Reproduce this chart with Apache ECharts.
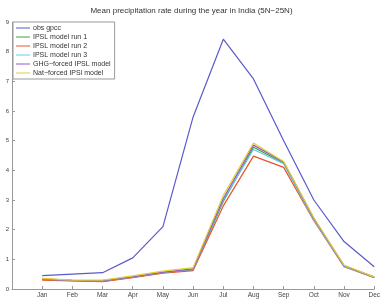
<!DOCTYPE html>
<html><head><meta charset="utf-8">
<script src="https://cdn.jsdelivr.net/npm/echarts@6/dist/echarts.min.js"></script>
<style>html,body{margin:0;padding:0;background:#fff}#c{width:383px;height:299px}</style>
</head><body><div id="c"></div>
<script>
var months = ['Jan','Feb','Mar','Apr','May','Jun','Jul','Aug','Sep','Oct','Nov','Dec'];
var yTicks = [0,1,2,3,4,5,6,7,8,9];
var seriesNames = ['obs gpcc','IPSL model run 1','IPSL model run 2','IPSL model run 3','GHG\u2212forced IPSL model','Nat\u2212forced IPSl model'];
var obsGpcc = [0.45,0.50,0.55,1.05,2.10,5.80,8.42,7.08,5.00,3.00,1.60,0.75];
var run1    = [0.32,0.28,0.26,0.40,0.55,0.64,2.95,4.78,4.25,2.35,0.78,0.40];
var run2    = [0.30,0.27,0.25,0.38,0.53,0.62,2.80,4.48,4.10,2.30,0.75,0.38];
var run3    = [0.33,0.29,0.27,0.41,0.56,0.66,3.00,4.70,4.22,2.33,0.77,0.39];
var ghg     = [0.34,0.29,0.28,0.42,0.57,0.68,3.05,4.85,4.28,2.38,0.79,0.40];
var nat     = [0.36,0.30,0.30,0.44,0.60,0.72,3.15,4.92,4.30,2.40,0.80,0.41];
var colors  = ['#5a5acb','#3aa34a','#e8542c','#62c8e8','#9a55c0','#e0d030'];
var allData = [obsGpcc, run1, run2, run3, ghg, nat];

var chart = echarts.init(document.getElementById('c'));
var series = allData.map(function(d, i){
  return {
    name: seriesNames[i], type: 'line', symbol: 'none',
    lineStyle: {width: 1.2, color: colors[i]}, itemStyle: {color: colors[i]},
    data: d.map(function(v, j){ return [j + 1, v]; })
  };
});
chart.setOption({
  animation: false,
  title: {text: 'Mean precipitation rate during the year in India (5N\u221225N)', left: 'center', top: 2,
    textStyle: {fontSize: 8, fontWeight: 'normal', color: '#333', fontFamily: 'Liberation Sans'}},
  grid: {left: 12, right: 4, top: 22, bottom: 10},
  legend: {
    orient: 'vertical', left: 13, top: 22, itemWidth: 14, itemHeight: 1, itemGap: 1,
    padding: [2, 4, 2, 3], borderColor: '#999', borderWidth: 1, backgroundColor: '#fff',
    icon: 'rect',
    textStyle: {fontSize: 7, lineHeight: 8, color: '#333', fontFamily: 'Liberation Sans', padding: [0,0,0,-2]},
    data: seriesNames
  },
  xAxis: {
    type: 'value', min: 0, max: 12, interval: 1,
    axisLine: {lineStyle: {color: '#999', width: 1}},
    axisTick: {inside: true, length: 3, lineStyle: {color: '#999'}},
    splitLine: {show: false},
    axisLabel: {fontSize: 6.5, color: '#444', margin: 3, fontFamily: 'Liberation Sans',
      formatter: function(v){ return v >= 1 && v <= 12 ? months[v - 1] : ''; }}
  },
  yAxis: {
    type: 'value', min: 0, max: 9, interval: 1,
    axisLine: {show: true, lineStyle: {color: '#999', width: 1}},
    axisTick: {show: true, inside: true, length: 3, lineStyle: {color: '#999'}},
    splitLine: {show: false},
    axisLabel: {fontSize: 6, color: '#444', margin: 3, fontFamily: 'Liberation Sans',
      formatter: function(v){ return yTicks.indexOf(v) >= 0 ? String(v) : ''; }}
  },
  series: series
});
</script></body></html>
